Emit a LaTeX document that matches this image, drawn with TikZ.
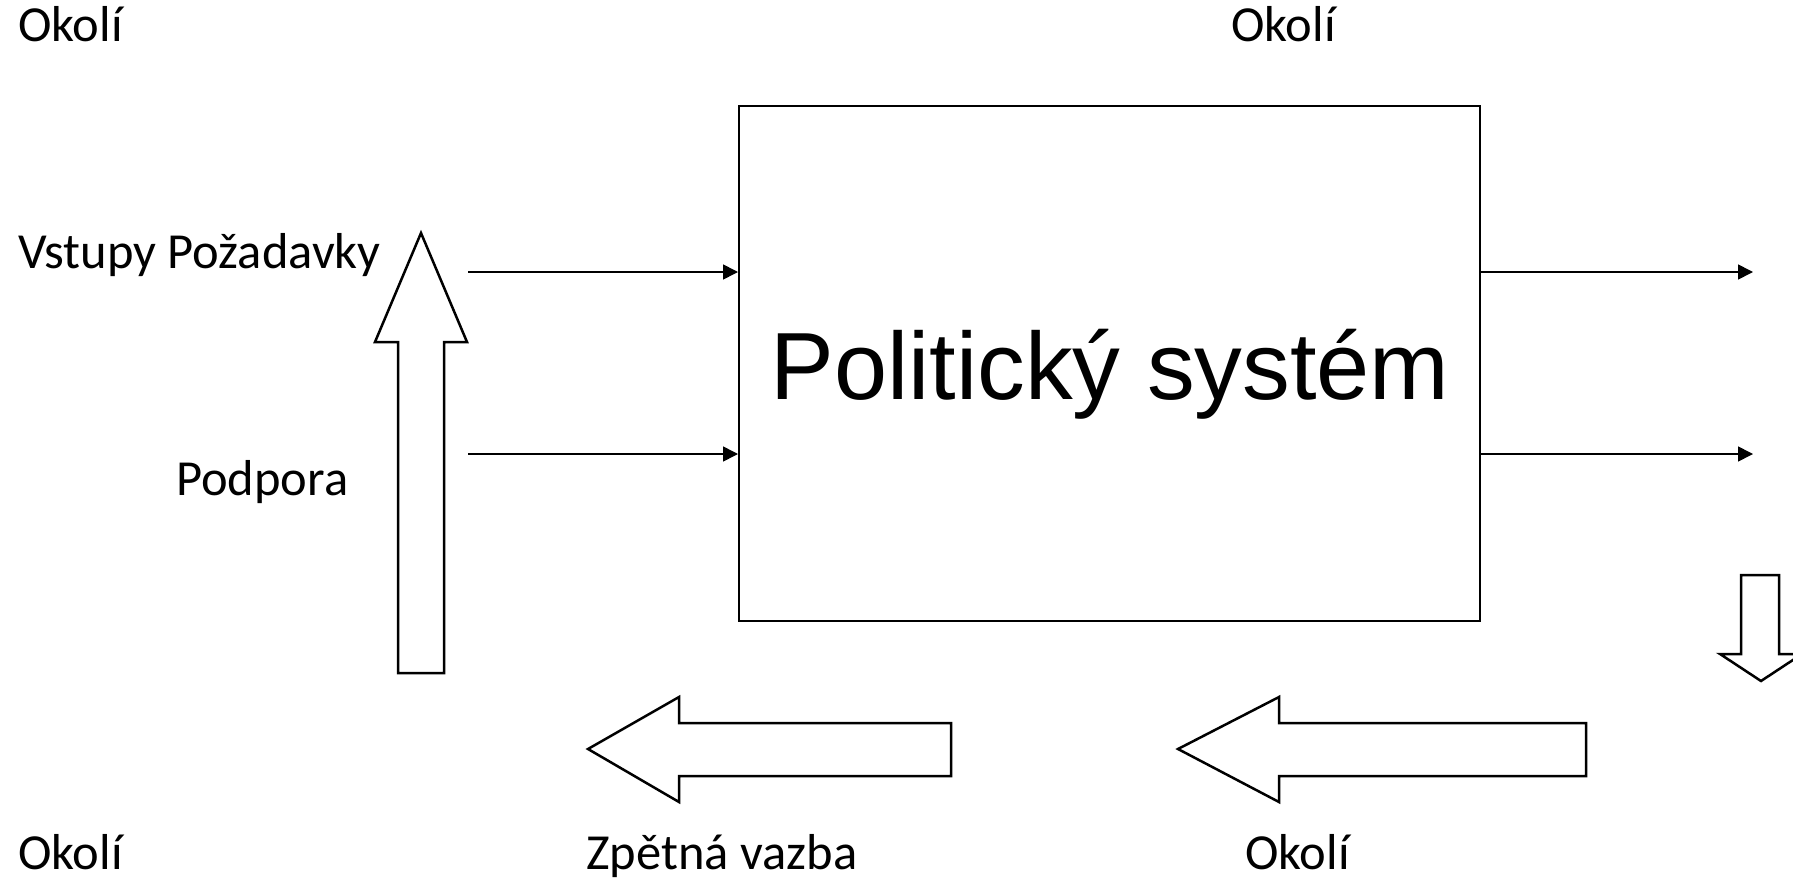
\documentclass[tikz,border=0pt]{standalone}
\usepackage{fontspec}
\setmainfont{Carlito}
\newfontfamily\titlefont{Liberation Sans}
\usetikzlibrary{arrows.meta}
\tikzset{
  lbl/.style={anchor=base west, inner sep=0pt, font=\fontsize{50.5}{60}\selectfont},
  sysbox/.style={draw, line width=2pt, minimum width=741pt, minimum height=515pt, inner sep=0pt},
  thinarrow/.style={line width=1.6pt, -{Triangle[length=15pt, width=15pt]}},
  blockarrow/.style={draw, fill=white, line width=2.5pt, line join=miter}
}
\begin{document}
\begin{tikzpicture}[x=1pt, y=-1pt]
\useasboundingbox (0,0) rectangle (1793,880);
% system box
\node[sysbox] (sys) at (1109.5,363.5) {};
\node[anchor=base, inner sep=0pt, font=\titlefont\fontsize{95.5}{110}\selectfont] (title) at (1110,399) {Politický systém};
% labels
\node[lbl] (ok1) at (18,42) {Okolí};
\node[lbl] (ok2) at (1231,42) {Okolí};
\node[lbl] (vst) at (18,268) {Vstupy Požadavky};
\node[lbl] (pod) at (176,495) {Podpora};
\node[lbl] (ok3) at (18,869) {Okolí};
\node[lbl] (zpv) at (586,869) {Zpětná vazba};
\node[lbl] (ok4) at (1245,869) {Okolí};
% thin arrows
\coordinate (inA) at (468,272);
\coordinate (inB) at (468,454);
\coordinate (outA) at (1753,272);
\coordinate (outB) at (1753,454);
\draw[thinarrow] (inA) -- (inA -| sys.west);
\draw[thinarrow] (inB) -- (inB -| sys.west);
\draw[thinarrow] (outA -| sys.east) -- (outA);
\draw[thinarrow] (outB -| sys.east) -- (outB);
% up block arrow
\path[blockarrow] (421,233) -- (467,342) -- (444,342) -- (444,673) -- (398,673) -- (398,342) -- (375,342) -- cycle;
% down block arrow (right edge, clipped by page)
\path[blockarrow] (1761,681) -- (1802,654) -- (1779,654) -- (1779,575) -- (1741,575) -- (1741,654) -- (1720,654) -- cycle;
% left block arrows
\path[blockarrow] (588,749) -- (679,697) -- (679,723) -- (951,723) -- (951,776) -- (679,776) -- (679,802) -- cycle;
\path[blockarrow] (1178,749) -- (1279,697) -- (1279,723) -- (1586,723) -- (1586,776) -- (1279,776) -- (1279,802) -- cycle;
\end{tikzpicture}
\end{document}
